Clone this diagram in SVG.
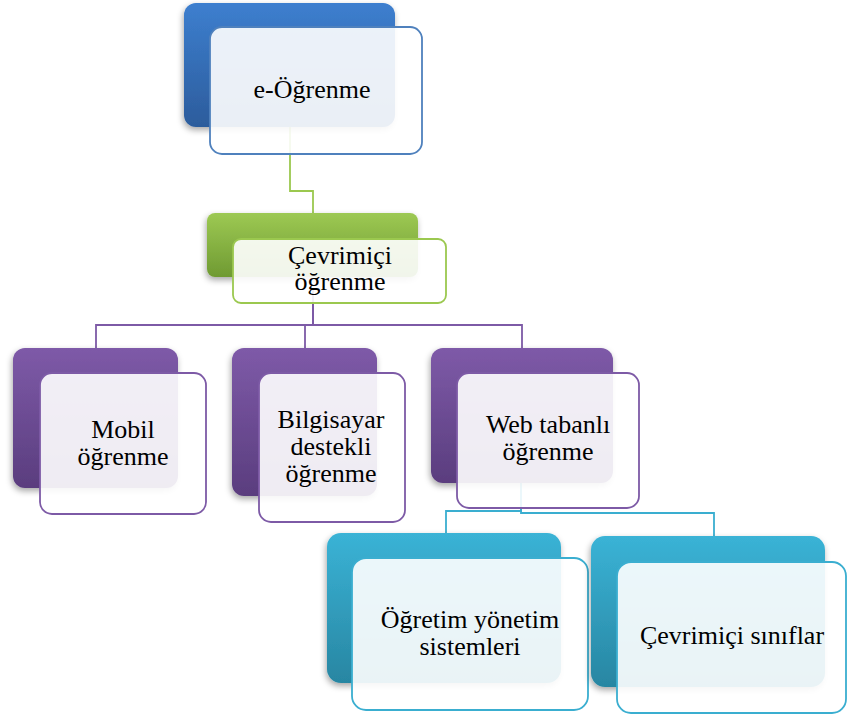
<svg xmlns="http://www.w3.org/2000/svg" width="851" height="718" viewBox="0 0 851 718">
<defs>
<linearGradient id="gBlue" x1="0" y1="0" x2="0" y2="1"><stop offset="0" stop-color="#3d7fcf"/><stop offset="1" stop-color="#2c5c9c"/></linearGradient>
<linearGradient id="gGreen" x1="0" y1="0" x2="0" y2="1"><stop offset="0" stop-color="#9dc953"/><stop offset="1" stop-color="#6f9a32"/></linearGradient>
<linearGradient id="gPurple" x1="0" y1="0" x2="0" y2="1"><stop offset="0" stop-color="#7e5aa8"/><stop offset="1" stop-color="#5a3d7e"/></linearGradient>
<linearGradient id="gCyan" x1="0" y1="0" x2="0" y2="1"><stop offset="0" stop-color="#3ab3d6"/><stop offset="1" stop-color="#2886a2"/></linearGradient>
<filter id="sh" x="-10%" y="-10%" width="125%" height="130%"><feDropShadow dx="-1" dy="3" stdDeviation="3" flood-color="#000" flood-opacity="0.35"/></filter>
</defs>
<style>
.back{filter:url(#sh)}
.front{fill:#fff;fill-opacity:0.9;stroke-width:1.8}
.t{font-family:"Liberation Serif","Times New Roman",serif;font-size:26px;fill:#000;text-anchor:middle}
.c{fill:none;stroke-width:1.8}
</style>
<g id="connectors">
<path class="c" stroke="#9bc84f" d="M290,110 V191 H313 V213"/>
<path class="c" stroke="#7d5aa6" d="M313,290 V325 H96 V348"/>
<path class="c" stroke="#7d5aa6" d="M313,290 V325 H305 V348"/>
<path class="c" stroke="#7d5aa6" d="M313,290 V325 H522 V348"/>
<path class="c" stroke="#3aaed0" d="M521,470 V511 H446 V533"/>
<path class="c" stroke="#3aaed0" d="M521,470 V513 H714 V536"/>
</g>
<g id="node-e-ogrenme">
<rect class="back" x="184" y="3" width="211" height="124" rx="12" fill="url(#gBlue)"/>
<rect class="front" x="210" y="27" width="212" height="127" rx="12" stroke="#4f81bd"/>
<text class="t" x="312" y="98">e-Öğrenme</text>
</g>
<g id="node-cevrimici-ogrenme">
<rect class="back" x="207" y="213" width="211" height="64" rx="8" fill="url(#gGreen)"/>
<rect class="front" x="233" y="239" width="213" height="64" rx="8" stroke="#9bc84f"/>
<text class="t" x="340" y="264">Çevrimiçi</text>
<text class="t" x="340" y="290">öğrenme</text>
</g>
<g id="node-mobil">
<rect class="back" x="13" y="348" width="165" height="140" rx="12" fill="url(#gPurple)"/>
<rect class="front" x="40" y="373" width="166" height="141" rx="12" stroke="#7d5aa6"/>
<text class="t" x="123" y="438">Mobil</text>
<text class="t" x="123" y="465">öğrenme</text>
</g>
<g id="node-bilgisayar">
<rect class="back" x="232" y="348" width="145" height="148" rx="12" fill="url(#gPurple)"/>
<rect class="front" x="259" y="373" width="146" height="149" rx="12" stroke="#7d5aa6"/>
<text class="t" x="331" y="428">Bilgisayar</text>
<text class="t" x="331" y="455">destekli</text>
<text class="t" x="331" y="482">öğrenme</text>
</g>
<g id="node-web">
<rect class="back" x="431" y="348" width="182" height="135" rx="12" fill="url(#gPurple)"/>
<rect class="front" x="457" y="373" width="182" height="135" rx="12" stroke="#7d5aa6"/>
<text class="t" x="548" y="433">Web tabanlı</text>
<text class="t" x="548" y="460">öğrenme</text>
</g>
<g id="node-ogretim">
<rect class="back" x="327" y="533" width="234" height="150" rx="14" fill="url(#gCyan)"/>
<rect class="front" x="352" y="558" width="236" height="152" rx="14" stroke="#3aaed0"/>
<text class="t" x="470" y="628">Öğretim yönetim</text>
<text class="t" x="470" y="655">sistemleri</text>
</g>
<g id="node-siniflar">
<rect class="back" x="591" y="536" width="234" height="151" rx="14" fill="url(#gCyan)"/>
<rect class="front" x="617" y="562" width="229" height="151" rx="14" stroke="#3aaed0"/>
<text class="t" x="732" y="644">Çevrimiçi sınıflar</text>
</g>
</svg>
